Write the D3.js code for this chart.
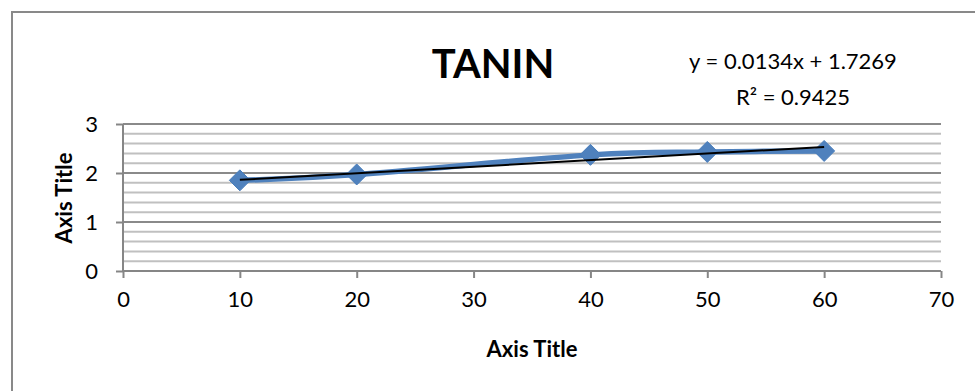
<!DOCTYPE html>
<html>
<head>
<meta charset="utf-8">
<script src="https://cdn.jsdelivr.net/npm/d3@7"></script>
<style>
  body { margin: 0; background: #fff; }
  svg { display: block; font-family: Lato, "Open Sans", sans-serif; }
</style>
</head>
<body>
<svg width="975" height="391"></svg>
<script>
// data
const xValues = [10, 20, 40, 50, 60]
const yValues = [1.85, 1.97, 2.37, 2.43, 2.45]
const xTicks = [0, 10, 20, 30, 40, 50, 60, 70]
const yTicks = [0, 1, 2, 3]
const trendSlope = 0.0134
const trendIntercept = 1.7269
const trendLabels = ['y = 0.0134x + 1.7269', 'R² = 0.9425']

const svg = d3.select('svg')

// chart frame (runs off the right / bottom of the picture)
svg.append('rect')
  .attr('x', 12).attr('y', 12)
  .attr('width', 1000).attr('height', 420)
  .attr('fill', 'none')
  .attr('stroke', '#898989')
  .attr('stroke-width', 2)

const x = d3.scaleLinear().domain([0, 70]).range([123, 941])
const y = d3.scaleLinear().domain([0, 3]).range([271, 124])

// minor gridlines every 0.2
const minor = d3.range(0, 3.001, 0.2).filter(v => Math.abs(v - Math.round(v)) > 1e-6)
svg.append('g').selectAll('line')
  .data(minor)
  .enter().append('line')
  .attr('x1', x(0)).attr('x2', x(70))
  .attr('y1', d => y(d)).attr('y2', d => y(d))
  .attr('stroke', '#c0c0c0')
  .attr('stroke-width', 2)

// major gridlines
svg.append('g').selectAll('line')
  .data(yTicks.filter(d => d > 0))
  .enter().append('line')
  .attr('x1', x(0)).attr('x2', x(70))
  .attr('y1', d => y(d)).attr('y2', d => y(d))
  .attr('stroke', '#8a8a8a')
  .attr('stroke-width', 2)

// axes
const xAxis = d3.axisBottom(x).tickValues(xTicks).tickSize(7).tickPadding(13)
const yAxis = d3.axisLeft(y).tickValues(yTicks).tickFormat(d3.format('d')).tickSize(7).tickPadding(18)

const gx = svg.append('g').attr('transform', 'translate(0,' + y(0) + ')').call(xAxis)
const gy = svg.append('g').attr('transform', 'translate(' + x(0) + ',0)').call(yAxis)

;[gx, gy].forEach(g => {
  g.select('.domain').attr('stroke', '#868686').attr('stroke-width', 2)
  g.selectAll('.tick line').attr('stroke', '#868686').attr('stroke-width', 2)
  g.selectAll('.tick text')
    .attr('fill', '#000')
    .style('font-size', '22px')
    .style('font-family', 'Lato, "Open Sans", sans-serif')
})
gx.select('.domain').attr('d', 'M' + x(0) + ',0H' + x(70))
gy.select('.domain').attr('d', 'M0,' + y(0) + 'V' + y(3))
gy.selectAll('.tick text').attr('dy', '0.35em')

// smoothed data line
const pts = xValues.map((d, i) => [d, yValues[i]])
const line = d3.line()
  .x(d => x(d[0]))
  .y(d => y(d[1]))
  .curve(d3.curveCardinal.tension(0))

svg.append('path')
  .datum(pts)
  .attr('d', line)
  .attr('fill', 'none')
  .attr('stroke', '#4f81bd')
  .attr('stroke-width', 5.5)
  .attr('stroke-linejoin', 'round')

// diamond markers
svg.append('g').selectAll('path')
  .data(pts)
  .enter().append('path')
  .attr('transform', d => 'translate(' + x(d[0]) + ',' + y(d[1]) + ')')
  .attr('d', 'M0,-10.5L10.5,0L0,10.5L-10.5,0Z')
  .attr('fill', '#4f81bd')
  .attr('stroke', '#4a7ebb')
  .attr('stroke-width', 1)

// linear trendline
const tx = d3.extent(xValues)
svg.append('line')
  .attr('x1', x(tx[0])).attr('y1', y(trendSlope * tx[0] + trendIntercept))
  .attr('x2', x(tx[1])).attr('y2', y(trendSlope * tx[1] + trendIntercept))
  .attr('stroke', '#000')
  .attr('stroke-width', 2)

// title
svg.append('text')
  .attr('x', 493).attr('y', 78)
  .attr('text-anchor', 'middle')
  .style('font-size', '40px')
  .style('font-weight', 'bold')
  .text('TANIN')

// trendline label
svg.append('g').selectAll('text')
  .data(trendLabels)
  .enter().append('text')
  .attr('x', 793)
  .attr('y', (d, i) => 69 + i * 36)
  .attr('text-anchor', 'middle')
  .style('font-size', '22px')
  .text(d => d)

// axis titles
svg.append('text')
  .attr('x', 532).attr('y', 357)
  .attr('text-anchor', 'middle')
  .style('font-size', '22px')
  .style('font-weight', 'bold')
  .text('Axis Title')

svg.append('text')
  .attr('transform', 'translate(72,198) rotate(-90)')
  .attr('text-anchor', 'middle')
  .style('font-size', '22px')
  .style('font-weight', 'bold')
  .text('Axis Title')
</script>
</body>
</html>
